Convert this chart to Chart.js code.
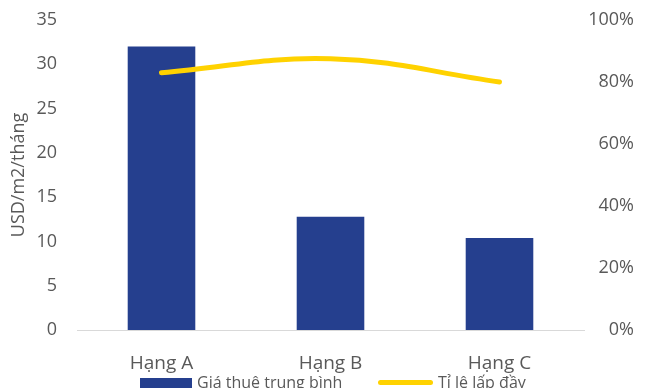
<!DOCTYPE html>
<html>
<head>
<meta charset="utf-8">
<script src="https://cdn.jsdelivr.net/npm/chart.js@4.4.1/dist/chart.umd.min.js"></script>
<style>
  html, body { margin: 0; padding: 0; background: #fff; overflow: hidden; }
  #wrap { position: relative; width: 650px; height: 388px; }
  .legend { position: absolute; left: 0; top: 370px; width: 650px; height: 30px;
            font-family: 'Open Sans', 'Noto Sans', sans-serif; font-size: 16px; color: #595959; }
  .legend .item { position: absolute; top: 0; display: flex; align-items: center; height: 24px; white-space: nowrap; }
  .legend .sw { margin-right: 5px; flex-shrink: 0; }
</style>
</head>
<body>
<div id="wrap">
  <canvas id="chart"></canvas>
  <div class="legend" id="legend"></div>
</div>
<script>
const categories = ["Hạng A", "Hạng B", "Hạng C"];
const rentValues = [32, 12.8, 10.4];          // USD/m2/tháng
const occupancy  = [0.83, 0.875, 0.80];       // tỉ lệ lấp đầy
const rentTicks  = { min: 0, max: 35, step: 5 };
const occTicks   = { min: 0, max: 1, step: 0.2 };

const GREY = "#595959";
const FONT = "'Open Sans', 'Noto Sans', sans-serif";
const BAR_COLOR = "#253F8E";
const LINE_COLOR = "#FFD200";

const chart = new Chart(document.getElementById("chart"), {
  data: {
    labels: categories,
    datasets: [
      {
        type: "bar", label: "Giá thuê trung bình", data: rentValues, yAxisID: "y",
        backgroundColor: BAR_COLOR, borderWidth: 0, order: 1,
        categoryPercentage: 1, barPercentage: 0.4,
      },
      {
        type: "line", label: "Tỉ lệ lấp đầy", data: occupancy, yAxisID: "y1",
        borderColor: LINE_COLOR, backgroundColor: LINE_COLOR, borderWidth: 5,
        borderCapStyle: "round", tension: 0.4, pointRadius: 0, order: 0,
      },
    ],
  },
  options: {
    responsive: true, maintainAspectRatio: false, animation: false,
    layout: { padding: { top: 0, left: 0, right: 16, bottom: 0 } },
    plugins: {
      tooltip: { enabled: false },
      legend: { display: false },
    },
    scales: {
      x: {
        grid: { display: false, drawTicks: false },
        border: { color: "#D9D9D9", width: 1 },
        ticks: { color: GREY, font: { family: FONT, size: 19 }, padding: 22 },
        afterFit: (s) => { s.height = 58; },
      },
      y: {
        position: "left", min: rentTicks.min, max: rentTicks.max,
        grid: { display: false, drawTicks: false },
        border: { display: false },
        ticks: { stepSize: rentTicks.step, color: GREY, font: { family: FONT, size: 18 }, padding: 20 },
        title: { display: true, text: "USD/m2/tháng", color: GREY, font: { family: FONT, size: 18 }, padding: { top: 8, bottom: 0 } },
        // keep the plot top close to the canvas edge despite the wide label gap
        afterFit: (s) => { s.width = 77; s.paddingTop = 20; },
      },
      y1: {
        position: "right", min: occTicks.min, max: occTicks.max,
        grid: { display: false, drawTicks: false },
        border: { display: false },
        ticks: {
          stepSize: occTicks.step, color: GREY, font: { family: FONT, size: 18 }, crossAlign: "far",
          callback: (v) => Math.round(v * 100) + "%",
        },
        afterFit: (s) => { s.width = 50; },
      },
    },
  },
});

// legend below the axis, partly running off the bottom edge
const legendEl = document.getElementById("legend");
const legendItems = [
  { left: 140, text: chart.data.datasets[0].label, sw: `width:52px;height:16px;background:${BAR_COLOR};margin-top:8px` },
  { left: 378, text: chart.data.datasets[1].label, sw: `width:55px;height:5px;border-radius:3px;background:${LINE_COLOR}` },
];
legendItems.forEach((it) => {
  const d = document.createElement("div");
  d.className = "item";
  d.style.left = it.left + "px";
  d.innerHTML = `<span class="sw" style="${it.sw}"></span><span>${it.text}</span>`;
  legendEl.appendChild(d);
});
</script>
</body>
</html>
